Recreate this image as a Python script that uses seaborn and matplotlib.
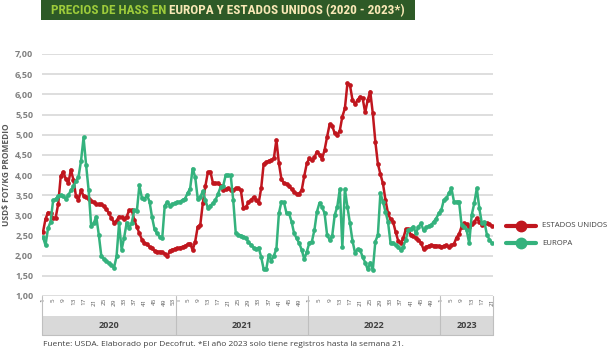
import numpy as np
import pandas as pd
import seaborn as sns
import matplotlib.pyplot as plt
from matplotlib import font_manager
from matplotlib.lines import Line2D
from matplotlib.patches import Rectangle
from matplotlib.ticker import FuncFormatter
import matplotlib.transforms as mtrans

# weekly prices (USD/kg FOT)
years = ['2020', '2021', '2022', '2023']
weeks_per_year = [53, 52, 52, 21]

usa_2020 = [2.58, 2.91, 3.07, 3.05, 2.93, 2.94, 3.28, 3.97, 4.08, 3.90, 3.80, 4.13, 3.88, 3.48, 3.38,
            3.63, 3.48, 3.45, 3.40, 3.35, 3.32, 3.28, 3.28, 3.27, 3.22, 3.15, 3.05, 2.93, 2.82, 2.87,
            2.97, 2.95, 2.90, 2.97, 3.13, 3.13, 2.88, 2.72, 2.55, 2.40, 2.32, 2.28, 2.22, 2.18, 2.12,
            2.10, 2.10, 2.08, 2.05, 1.98, 2.12, 2.15, 2.17]
usa_2021 = [2.18, 2.20, 2.22, 2.24, 2.28, 2.30, 2.14, 2.35, 2.72, 2.76, 3.30, 3.72, 4.07, 4.08, 3.80,
            3.80, 3.80, 3.73, 3.62, 3.65, 3.67, 3.63, 3.62, 3.67, 3.67, 3.62, 3.18, 3.20, 3.32, 3.38,
            3.45, 3.38, 3.30, 3.67, 4.28, 4.32, 4.35, 4.37, 4.41, 4.87, 4.29, 3.89, 3.80, 3.78, 3.72,
            3.65, 3.58, 3.53, 3.54, 3.63, 3.98, 4.29]
usa_2022 = [4.41, 4.36, 4.44, 4.58, 4.50, 4.40, 4.62, 4.95, 5.26, 5.22, 5.03, 4.99, 5.10, 5.45, 5.65,
            6.27, 6.23, 5.86, 5.76, 5.86, 5.94, 5.90, 5.55, 5.86, 6.07, 5.53, 4.83, 4.28, 4.02, 3.79,
            3.38, 3.05, 2.90, 2.84, 2.59, 2.37, 2.31, 2.43, 2.65, 2.65, 2.51, 2.49, 2.45, 2.39, 2.32,
            2.16, 2.22, 2.24, 2.26, 2.25, 2.25, 2.24]
usa_2023 = [2.22, 2.24, 2.26, 2.22, 2.26, 2.29, 2.45, 2.53, 2.72, 2.80, 2.78, 2.70, 2.78, 2.84, 2.93,
            2.84, 2.76, 2.82, 2.80, 2.78, 2.74]

eu_2020 = [2.46, 2.26, 2.68, 2.84, 3.37, 3.40, 3.48, 3.50, 3.48, 3.40, 3.50, 3.62, 3.72, 3.85, 3.95,
           4.35, 4.93, 4.25, 3.62, 2.74, 2.80, 2.97, 2.52, 1.99, 1.92, 1.86, 1.81, 1.77, 1.70, 1.98,
           2.80, 2.15, 2.45, 2.82, 2.68, 2.82, 3.13, 3.10, 3.74, 3.43, 3.40, 3.50, 3.34, 2.95, 2.65,
           2.55, 2.47, 2.43, 3.24, 3.33, 3.24, 3.28, 3.30]
eu_2021 = [3.33, 3.34, 3.38, 3.41, 3.55, 3.66, 4.16, 3.95, 3.41, 3.45, 3.60, 3.38, 3.18, 3.24, 3.30,
           3.38, 3.53, 3.70, 3.72, 3.99, 3.99, 3.99, 3.37, 2.55, 2.52, 2.50, 2.47, 2.45, 2.33, 2.27,
           2.20, 2.16, 2.20, 1.97, 1.66, 1.66, 2.02, 1.88, 2.00, 2.16, 3.05, 3.34, 3.32, 3.05, 3.05,
           2.84, 2.55, 2.43, 2.31, 2.14, 1.91, 2.10]
eu_2022 = [2.32, 2.35, 2.64, 3.09, 3.31, 3.21, 3.05, 2.51, 2.39, 2.49, 3.01, 3.21, 3.65, 2.22, 3.65,
           3.21, 2.80, 2.37, 2.07, 2.16, 2.14, 1.97, 1.83, 1.66, 1.83, 1.64, 2.35, 2.51, 3.55, 3.34,
           3.09, 2.84, 2.31, 2.32, 2.26, 2.22, 2.14, 2.22, 2.40, 2.63, 2.67, 2.72, 2.55, 2.72, 2.80,
           2.63, 2.70, 2.73, 2.76, 2.84, 2.92, 3.05]
eu_2023 = [3.13, 3.38, 3.42, 3.55, 3.67, 3.34, 3.34, 3.34, 2.76, 2.72, 2.63, 2.31, 3.01, 3.30, 3.67,
           3.17, 2.80, 2.84, 2.51, 2.40, 2.31]

series_names = ['ESTADOS UNIDOS', 'EUROPA']
series_colors = ['#c0161e', '#34b27d']
footer = 'Fuente: USDA. Elaborado por Decofrut. *El año 2023 solo tiene registros hasta la semana 21.'

# long table: one row per week and series
rows = []
for name, parts in zip(series_names, [[usa_2020, usa_2021, usa_2022, usa_2023],
                                      [eu_2020, eu_2021, eu_2022, eu_2023]]):
    idx = 0
    for yr, n, vals in zip(years, weeks_per_year, parts):
        assert len(vals) == n
        for w, v in enumerate(vals, start=1):
            rows.append({'idx': idx, 'year': yr, 'week': w, 'serie': name, 'precio': v})
            idx += 1
df = pd.DataFrame(rows)
n_total = sum(weeks_per_year)

sns.set_style('white')
plt.rcParams['font.family'] = ['Open Sans', 'DejaVu Sans']

available = {f.name for f in font_manager.fontManager.ttflist}
title_font = 'DejaVu Sans'
for cand in ['Liberation Sans Narrow', 'Roboto Condensed', 'Open Sans Condensed', 'Roboto']:
    if cand in available:
        title_font = cand
        break

W, H = 613, 356
fig = plt.figure(figsize=(W / 100, H / 100), dpi=100)

# plot box in pixels: x 41.7..493.3, y 54..296
ax = fig.add_axes([41.7 / W, (H - 296) / H, 451.6 / W, 242 / H])

sns.lineplot(data=df, x='idx', y='precio', hue='serie', hue_order=series_names,
             palette=dict(zip(series_names, series_colors)), marker='o', markersize=3.4,
             markeredgewidth=0, linewidth=1.8, legend=False, estimator=None, ax=ax)

ax.set_xlim(-0.5, n_total - 0.5)
ax.set_ylim(1, 7)
ax.set_yticks(np.arange(1, 7.01, 0.5))
ax.yaxis.set_major_formatter(FuncFormatter(lambda v, p: f'{v:.2f}'.replace('.', ',')))
ax.tick_params(axis='y', length=0, pad=6, labelsize=6.5, labelcolor='#808080')
for t in ax.get_yticklabels():
    t.set_fontweight('bold')
ax.grid(axis='y', color='#d4d4d4', linewidth=1.1)
ax.grid(axis='x', visible=False)
ax.set_axisbelow(True)
for s in ax.spines.values():
    s.set_visible(False)
ax.set_xlabel('')
ax.set_ylabel('')

# week ticks every 4 weeks in each year
tick_pos, tick_lab = [], []
start = 0
bounds = [-0.5]
for yr, n in zip(years, weeks_per_year):
    for w in range(1, n + 1, 4):
        tick_pos.append(start + w - 1)
        tick_lab.append(str(w))
    start += n
    bounds.append(start - 0.5)
ax.set_xticks(tick_pos)
ax.set_xticklabels(tick_lab, rotation=90, fontsize=4.6, color='#595959')
ax.tick_params(axis='x', length=0, pad=1.5)

# week 53 of 2020 and week 1 of 2021 sit side by side: push them apart a little
labels = ax.get_xticklabels()
i53 = tick_lab.index('53')
for lab, dx in [(labels[i53], -1.6), (labels[i53 + 1], 1.6)]:
    lab.set_transform(lab.get_transform() + mtrans.ScaledTranslation(dx / 100, 0, fig.dpi_scale_trans))


def yfrac(px):
    return (296 - px) / 242


trans = mtrans.blended_transform_factory(ax.transData, ax.transAxes)
ax.add_patch(Rectangle((-0.5, yfrac(335)), n_total, yfrac(316) - yfrac(335), transform=trans,
                       facecolor='#d9d9d9', edgecolor='none', clip_on=False, zorder=0))
for b in bounds:
    ax.plot([b, b], [0, yfrac(335)], transform=trans, color='#bfbfbf', lw=0.8, clip_on=False)
ax.plot([-0.5, n_total - 0.5], [yfrac(335)] * 2, transform=trans, color='#bfbfbf', lw=0.8,
        clip_on=False)
for yr, a, b in zip(years, bounds[:-1], bounds[1:]):
    ax.text((a + b) / 2, yfrac(326), yr, transform=trans, ha='center', va='center',
            fontsize=6.5, fontweight='bold', color='#404040')

fig.text(7 / W, 1 - 175 / H, 'USD$ FOT/KG PROMEDIO', rotation=90, ha='center', va='center',
         fontsize=6, fontweight='bold', color='#595959')

# title banner
fig.add_artist(Rectangle((40.7 / W, 1 - 19.5 / H), (415 - 40.7) / W, 19.5 / H,
                         transform=fig.transFigure, facecolor='#2e5a27', edgecolor='none'))
fig.text(166 / W, 1 - 10.5 / H, 'PRECIOS DE HASS EN', ha='right', va='center', fontsize=9.5,
         fontweight='bold', color='#9dcb3b', family=title_font)
fig.text(169 / W, 1 - 10.5 / H, 'EUROPA Y ESTADOS UNIDOS (2020 - 2023*)', ha='left', va='center',
         fontsize=9.5, fontweight='bold', color='#f8e8b6', family=title_font)

# legend on the right
for k, (name, col) in enumerate(zip(series_names, series_colors)):
    y = 1 - (225.7 + 17.6 * k) / H
    fig.add_artist(Line2D([506 / W, 536 / W], [y, y], color=col, lw=3, transform=fig.transFigure))
    fig.add_artist(Line2D([521 / W], [y], marker='o', ms=7.5, color=col, mec=col,
                          transform=fig.transFigure))
    fig.text(542 / W, y, name, ha='left', va='center', fontsize=5.6, color='#404040')

fig.text(43 / W, 1 - 344 / H, footer, ha='left', va='center', fontsize=6, color='#404040')

fig.savefig('out.png', dpi=100)
